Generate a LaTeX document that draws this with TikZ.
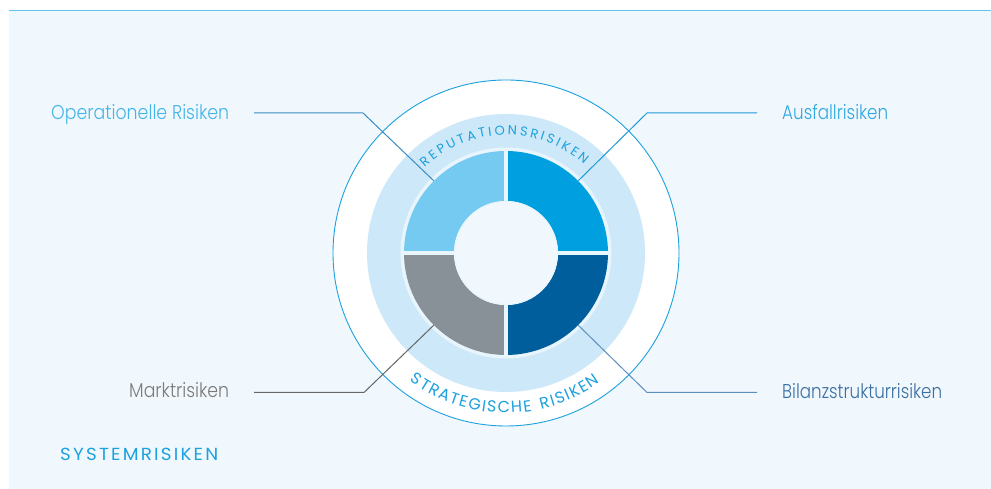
\documentclass[tikz,border=0pt]{standalone}
\usepackage{fontspec}
\usepackage{graphicx}
\setmainfont{Poppins}[UprightFont={* Light}]
\newfontfamily\capsfont{Poppins}[LetterSpace=12]
\usetikzlibrary{decorations.text}
\definecolor{bg}{HTML}{F1F8FD}
\definecolor{topline}{HTML}{5CC3EE}
\definecolor{ringc}{HTML}{CDE8F8}
\definecolor{gapc}{HTML}{E9F5FC}
\definecolor{qtl}{HTML}{74CAF1}
\definecolor{qtr}{HTML}{009FE0}
\definecolor{qbr}{HTML}{005E9D}
\definecolor{qbl}{HTML}{879197}
\definecolor{circ}{HTML}{1BA1DE}
\definecolor{opc}{HTML}{45B5E8}
\definecolor{auc}{HTML}{2FA8E0}
\definecolor{mkc}{HTML}{7A7A7A}
\definecolor{bic}{HTML}{3B70A3}
\definecolor{opl}{HTML}{3A8CC4}
\definecolor{aul}{HTML}{1F9AD6}
\definecolor{mkl}{HTML}{666666}
\definecolor{bil}{HTML}{5A8FBF}
\newlength\fitlen
\newcommand\fitw[2]{\settowidth{\fitlen}{#2}\pgfmathsetmacro\fitf{#1/\fitlen}\scalebox{\fitf}[1]{#2}}
\tikzset{
  lbl/.style={inner sep=0pt, anchor=base west, font=\fontsize{20}{24}\selectfont},
  leader/.style={line width=1pt},
}
\begin{document}
\begin{tikzpicture}[x=1pt,y=1pt]
\useasboundingbox (0,0) rectangle (991,489);
\fill[bg] (9,0) rectangle (991,478.5);
\draw[topline, line width=1.2pt] (9,478.5) -- (991,478.5);
\coordinate (C) at (506,236);
% circles
\filldraw[fill=white, draw=circ, line width=0.9pt] (C) circle[radius=173];
\fill[ringc] (C) circle[radius=139];
\fill[gapc] (C) circle[radius=105.5];
\foreach \a/\c in {0/qtr,90/qtl,180/qbl,270/qbr}
  \fill[\c] ([shift={(\a:102)}]C) arc[start angle=\a, delta angle=90, radius=102]
     -- ([shift={(\a+90:52)}]C) arc[start angle=\a+90, delta angle=-90, radius=52] -- cycle;
\draw[gapc, line width=4.2pt] ([xshift=-104pt]C) -- ([xshift=104pt]C);
\draw[gapc, line width=4.2pt] ([yshift=-104pt]C) -- ([yshift=104pt]C);
\filldraw[fill=bg, draw=gapc, line width=1.2pt] (C) circle[radius=51.5];
% ring texts
\path[decorate, decoration={text along path, text color=circ,
   text={|\capsfont\fontsize{13}{15}\selectfont|REPUTATIONSRISIKEN}, text align={fit to path}}]
   ([shift={(133.5:118)}]C) arc[start angle=133.5, end angle=48.5, radius=118];
\path[decorate, decoration={text along path, text color=circ,
   text={|\capsfont\fontsize{16}{18}\selectfont|STRATEGISCHE RISIKEN}, text align={fit to path}}]
   ([shift={(233:160)}]C) arc[start angle=233, end angle=306, radius=160];
% labels
\node[lbl, text=opc] (op) at (51,369) {\fitw{178}{Operationelle Risiken}};
\node[lbl, text=auc] (au) at (782,369) {\fitw{106}{Ausfallrisiken}};
\node[lbl, text=mkc] (mk) at (129,91.7) {\fitw{100}{Marktrisiken}};
\node[lbl, text=bic] (bi) at (782,90.7) {\fitw{160}{Bilanzstrukturrisiken}};
\node[inner sep=0pt, anchor=base west, text=circ, font=\capsfont\fontsize{17.5}{20}\selectfont] (sys) at (60,28.3) {\fitw{158}{SYSTEMRISIKEN}};
% leaders
\coordinate (opS) at (254,376); \coordinate (opK) at (363,376); \coordinate (opE) at ([shift={(135:102)}]C);
\coordinate (auS) at (757,376); \coordinate (auK) at (647,376); \coordinate (auE) at ([shift={(45:102)}]C);
\coordinate (mkS) at (254,96.5); \coordinate (mkK) at (364,96.5); \coordinate (mkE) at ([shift={(225:102)}]C);
\coordinate (biS) at (757,96.5); \coordinate (biK) at (647,96.5); \coordinate (biE) at ([shift={(315:102)}]C);
\draw[leader, opl] (opS) -- (opK) -- (opE);
\draw[leader, aul] (auS) -- (auK) -- (auE);
\draw[leader, mkl] (mkS) -- (mkK) -- (mkE);
\draw[leader, bil] (biS) -- (biK) -- (biE);
\end{tikzpicture}
\end{document}
